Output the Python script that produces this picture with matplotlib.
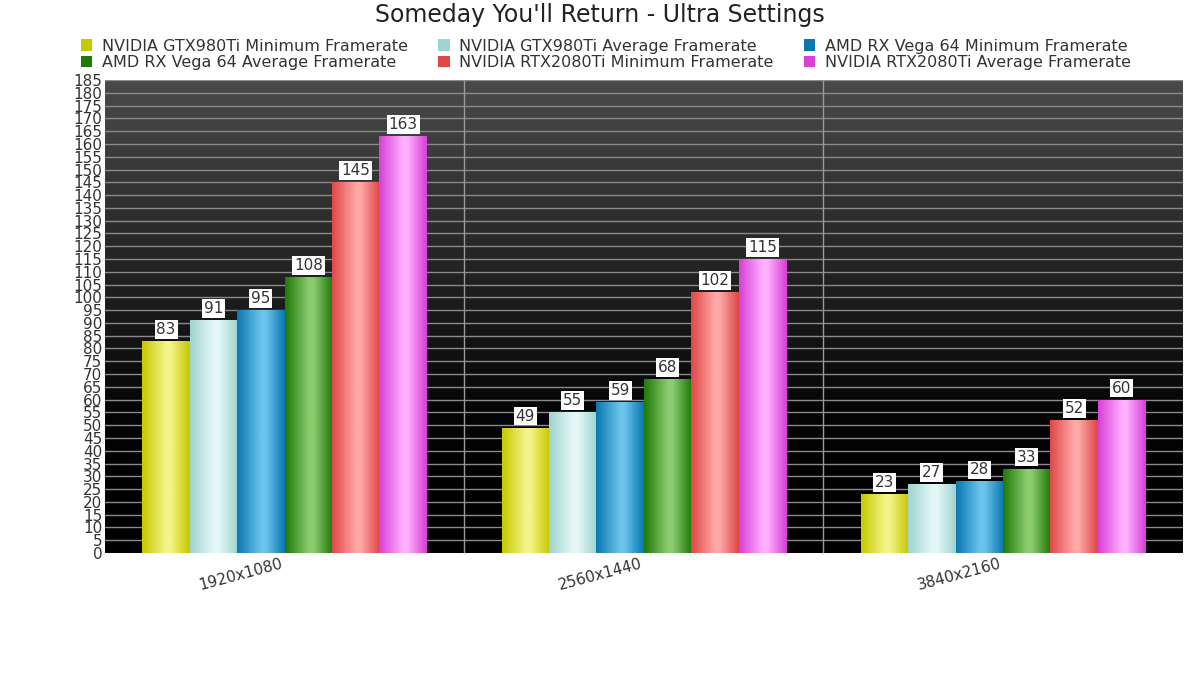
import numpy as np
import matplotlib
matplotlib.use("Agg")
import matplotlib.pyplot as plt
from matplotlib.colors import LinearSegmentedColormap

plt.rcParams['font.family'] = ['DejaVu Sans']

# chart data
resolutions = ["1920x1080", "2560x1440", "3840x2160"]
series_names = [
    "NVIDIA GTX980Ti Minimum Framerate",
    "NVIDIA GTX980Ti Average Framerate",
    "AMD RX Vega 64 Minimum Framerate",
    "AMD RX Vega 64 Average Framerate",
    "NVIDIA RTX2080Ti Minimum Framerate",
    "NVIDIA RTX2080Ti Average Framerate",
]
gtx_min = [83, 49, 23]
gtx_avg = [91, 55, 27]
vega_min = [95, 59, 28]
vega_avg = [108, 68, 33]
rtx_min = [145, 102, 52]
rtx_avg = [163, 115, 60]
all_series = [gtx_min, gtx_avg, vega_min, vega_avg, rtx_min, rtx_avg]

# edge / highlight colours for the cylinder look
dark_cols = ["#c8c800", "#9fd4d0", "#0a78b0", "#1f7a08", "#e04848", "#d840d8"]
light_cols = ["#f4f48a", "#e4f8f6", "#6cc4ec", "#8ccc70", "#ffa8a8", "#ffb0ff"]

text_col = "#333333"

fig = plt.figure(figsize=(12, 6.75), dpi=100)
ax = fig.add_axes([0.0875, 0.1807, 0.898, 0.7007])

# background: gray at the top fading to black
bg = np.linspace(0, 1, 256).reshape(-1, 1)
bg_cmap = LinearSegmentedColormap.from_list("bg", [(0, "#000000"), (0.3, "#050505"), (1, "#4a4a4a")])
ax.imshow(bg, cmap=bg_cmap, aspect="auto", extent=[0, 1, 0, 1], origin="lower",
          transform=ax.transAxes, zorder=0)

n_groups = len(resolutions)
n_series = len(all_series)
bar_w = 0.132
x = np.arange(n_groups)

for yv in range(5, 186, 5):
    ax.axhline(yv, color="#8a8a8a", lw=1.0, zorder=1)
for sep in x[:-1] + 0.5:
    ax.axvline(sep, color="#9a9a9a", lw=1.0, zorder=1)

handles = []
for i, vals in enumerate(all_series):
    offs = (i - (n_series - 1) / 2) * bar_w
    bars = ax.bar(x + offs, vals, width=bar_w, color=dark_cols[i], zorder=2,
                  label=series_names[i])
    cmap = LinearSegmentedColormap.from_list(
        "c%d" % i, [(0, dark_cols[i]), (0.5, light_cols[i]), (0.6, light_cols[i]), (1, dark_cols[i])])
    grad = np.linspace(0, 1, 64).reshape(1, -1)
    for b in bars:
        im = ax.imshow(grad, cmap=cmap, aspect="auto", zorder=3,
                       extent=[b.get_x(), b.get_x() + b.get_width(), 0, b.get_height()])
        im.set_clip_path(b)
        ax.text(b.get_x() + b.get_width() / 2, b.get_height() + 1.6, str(int(b.get_height())),
                ha="center", va="bottom", fontsize=11, color=text_col, zorder=5,
                bbox=dict(boxstyle="square,pad=0.12", fc="white", ec="none"))
    handles.append(bars)

ax.set_xlim(-0.5, n_groups - 0.5)
ax.set_ylim(0, 185)
ax.set_yticks(range(0, 186, 5))
ax.set_xticks(x)
ax.set_xticklabels(resolutions, rotation=15, ha="right", fontsize=11, color=text_col)
ax.tick_params(axis="y", labelsize=11, colors=text_col, length=0, pad=2)
ax.tick_params(axis="x", length=0, pad=2)
for lbl in ax.get_xticklabels():
    lbl.set_x(lbl.get_position()[0] + 0.04)
for s in ax.spines.values():
    s.set_visible(False)

fig.suptitle("Someday You'll Return - Ultra Settings", y=0.995, fontsize=17, color="#222222")

order = [0, 3, 1, 4, 2, 5]
leg = fig.legend([handles[k] for k in order], [series_names[k] for k in order],
                 ncol=3, loc="upper center", bbox_to_anchor=(0.505, 0.957), frameon=False,
                 fontsize=11.5, handlelength=0.7, handleheight=0.75, handletextpad=0.6,
                 columnspacing=1.9, labelspacing=0.1, labelcolor=text_col,
                 borderaxespad=0.2)

fig.savefig("out.png", dpi=100)
